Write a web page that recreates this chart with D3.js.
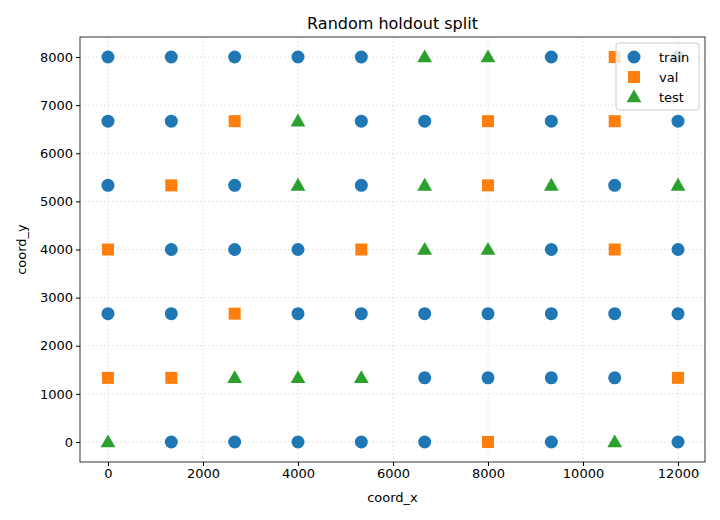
<!DOCTYPE html>
<html><head><meta charset="utf-8">
<script src="https://cdn.jsdelivr.net/npm/d3@7"></script>
<style>body{margin:0;background:#fff}text{font-family:"DejaVu Sans",sans-serif}</style>
</head><body><svg id="c" width="720" height="520"></svg>
<script>
const xs=[0,1333,2667,4000,5333,6667,8000,9333,10667,12000];
const ys=[8000,6667,5333,4000,2667,1333,0];
const split=[
"TTTTTEETVT",
"TTVETTVTVT",
"TVTETEVETE",
"VTTTVEETVT",
"TTVTTTTTTT",
"VVEEETTTTV",
"ETTTTTVTET"];
const xTicks=[0,2000,4000,6000,8000,10000,12000];
const yTicks=[0,1000,2000,3000,4000,5000,6000,7000,8000];
const colors={train:"#1f77b4",val:"#ff7f0e",test:"#2ca02c"};
const codeMap={T:"train",V:"val",E:"test"};
const L=80,R=705,Tp=37,B=462;
const x=d3.scaleLinear().domain([-589,12568]).range([L,R]);
const y=d3.scaleLinear().domain([-416,8416]).range([B,Tp]);
const svg=d3.select("#c");
const g=svg.append("g");
g.selectAll(".gx").data(xTicks).join("line").attr("x1",d=>x(d)).attr("x2",d=>x(d)).attr("y1",Tp).attr("y2",B).attr("stroke","#ddd").attr("stroke-dasharray","1.5,2.5");
g.selectAll(".gy").data(yTicks).join("line").attr("y1",d=>y(d)).attr("y2",d=>y(d)).attr("x1",L).attr("x2",R).attr("stroke","#ddd").attr("stroke-dasharray","1.5,2.5");
const pts=[];
split.forEach((row,i)=>row.split("").forEach((c,j)=>pts.push({x:xs[j],y:ys[i],s:codeMap[c]})));
function mark(sel,s,cx,cy){
  if(s==="train") sel.append("circle").attr("cx",cx).attr("cy",cy).attr("r",6.5).attr("fill",colors.train);
  else if(s==="val") sel.append("rect").attr("x",cx-6).attr("y",cy-6).attr("width",12).attr("height",12).attr("fill",colors.val);
  else sel.append("path").attr("d",d3.symbol(d3.symbolTriangle,95)()).attr("transform",`translate(${cx},${cy+1})`).attr("fill",colors.test);
}
pts.forEach(p=>mark(g,p.s,x(p.x),y(p.y)));
const fmt=d3.format("d");
svg.append("g").attr("transform",`translate(0,${B})`).call(d3.axisBottom(x).tickValues(xTicks).tickFormat(fmt).tickSizeOuter(0).tickSize(4)).call(a=>{a.select(".domain").remove();a.selectAll("text").attr("font-size",13).attr("fill","#000");});
svg.append("g").attr("transform",`translate(${L},0)`).call(d3.axisLeft(y).tickValues(yTicks).tickFormat(fmt).tickSizeOuter(0).tickSize(4)).call(a=>{a.select(".domain").remove();a.selectAll("text").attr("font-size",13).attr("fill","#000");});
svg.append("rect").attr("x",L).attr("y",Tp).attr("width",R-L).attr("height",B-Tp).attr("fill","none").attr("stroke","#000").attr("stroke-width",0.8);
svg.append("text").attr("x",(L+R)/2).attr("y",29).attr("text-anchor","middle").attr("font-size",16).text("Random holdout split");
svg.append("text").attr("x",(L+R)/2).attr("y",502).attr("text-anchor","middle").attr("font-size",13).text("coord_x");
svg.append("text").attr("transform",`translate(26,${(Tp+B)/2}) rotate(-90)`).attr("text-anchor","middle").attr("font-size",13).text("coord_y");
const lg=svg.append("g");
lg.append("rect").attr("x",616).attr("y",43).attr("width",83).attr("height",67).attr("rx",3).attr("fill","#fff").attr("fill-opacity",0.8).attr("stroke","#ccc");
["train","val","test"].forEach((s,i)=>{
  mark(lg,s,634,57+i*20);
  lg.append("text").attr("x",659).attr("y",62+i*20).attr("font-size",13).text(s);
});
</script></body></html>
